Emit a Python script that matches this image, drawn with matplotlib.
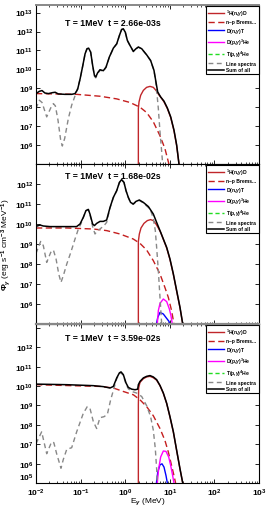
import numpy as np
import matplotlib
matplotlib.use("Agg")
import matplotlib.pyplot as plt
from matplotlib.ticker import FixedLocator, FixedFormatter, LogLocator, NullLocator

plt.rcParams['font.family'] = ['Liberation Sans', 'DejaVu Sans']
plt.rcParams['font.weight'] = 'bold'
plt.rcParams['mathtext.fontset'] = 'custom'
plt.rcParams['mathtext.rm'] = 'Liberation Sans:bold'
plt.rcParams['mathtext.it'] = 'Liberation Sans:italic:bold'
plt.rcParams['mathtext.bf'] = 'Liberation Sans:bold'

# ---------------- data (log10 E [MeV], log10 Phi) ----------------
titles = ["T = 1MeV  t = 2.66e-03s", "T = 1MeV  t = 1.68e-02s", "T = 1MeV  t = 3.59e-02s"]
legend_labels = [r"$^1$H(n,$\gamma$)D", "n\u2013p Brems...", r"D(n,$\gamma$)T",
                 r"D(p,$\gamma$)$^3$He", r"T(p,$\gamma$)$^4$He", "Line spectra", "Sum of all"]
xtick_vals = [1e-2, 1e-1, 1e0, 1e1, 1e2, 1e3]
xtick_labels = [r"$10^{-2}$", r"$10^{-1}$", r"$10^{0}$", r"$10^{1}$", r"$10^{2}$", r"$10^{3}$"]
ytick_vals = [1e5, 1e6, 1e7, 1e8, 1e9, 1e10, 1e11, 1e12, 1e13]
ytick_labels_p1 = ["", r"$10^{6}$", r"$10^{7}$", r"$10^{8}$", r"$10^{9}$", r"$10^{10}$", r"$10^{11}$", r"$10^{12}$", r"$10^{13}$"]
ytick_labels_p2 = ["", r"$10^{6}$", r"$10^{7}$", r"$10^{8}$", r"$10^{9}$", r"$10^{10}$", r"$10^{11}$", r"$10^{12}$", ""]
ytick_labels_p3 = [r"$10^{5}$", r"$10^{6}$", r"$10^{7}$", r"$10^{8}$", r"$10^{9}$", r"$10^{10}$", r"$10^{11}$", r"$10^{12}$", ""]

# Panel 1
p1_sum_x = [-2.0, -1.925, -1.865, -1.80, -1.72, -1.63, -1.57, -1.50, -1.35, -1.20, -1.125, -1.066, -1.01, -0.95, -0.90, -0.857, -0.82, -0.774, -0.73, -0.69, -0.66, -0.617, -0.565, -0.49, -0.43, -0.356, -0.266, -0.19, -0.13, -0.08, -0.042, 0.003, 0.048, 0.108, 0.183, 0.242, 0.295, 0.37, 0.48, 0.57, 0.645, 0.69, 0.728, 0.795, 0.87, 0.945, 1.02, 1.094, 1.154, 1.206]
p1_sum_y = [8.72, 8.84, 8.88, 8.75, 8.72, 8.77, 8.79, 8.70, 8.68, 8.68, 8.72, 8.95, 9.51, 10.21, 10.82, 11.09, 11.12, 10.91, 10.21, 9.68, 9.60, 9.82, 9.98, 9.93, 10.12, 10.65, 11.12, 11.35, 11.79, 12.11, 12.14, 11.96, 11.53, 11.26, 10.95, 11.09, 11.18, 11.09, 10.77, 10.47, 9.95, 9.33, 8.81, 8.54, 8.32, 7.96, 7.49, 6.79, 6.0, 5.0]
p1_brems_x = [-2.0, -1.09, -0.565, -0.19, 0.108, 0.332, 0.48, 0.63, 0.78, 0.89, 0.98]
p1_brems_y = [8.72, 8.68, 8.58, 8.44, 8.25, 8.0, 7.72, 7.23, 6.49, 5.82, 5.0]
p1_hnd_x = [0.295, 0.295, 0.31, 0.347, 0.407, 0.48, 0.556, 0.63, 0.69, 0.75, 0.81, 0.87, 0.945, 1.02, 1.094, 1.154, 1.206]
p1_hnd_y = [5.0, 7.93, 8.28, 8.63, 8.89, 9.05, 9.10, 9.05, 8.89, 8.67, 8.49, 8.28, 7.93, 7.46, 6.75, 5.96, 5.0]
p1_line_x = [-2.0, -1.925, -1.865, -1.76, -1.67, -1.61, -1.566, -1.507, -1.447, -1.41, -1.357, -1.275, -1.20, -1.125, -1.073, -1.01, -0.95, -0.90, -0.857, -0.82, -0.774, -0.73, -0.69, -0.66, -0.617, -0.565, -0.49, -0.43, -0.356, -0.266, -0.19, -0.13, -0.08, -0.042, 0.003, 0.048, 0.108, 0.183, 0.242, 0.295, 0.37, 0.48, 0.57, 0.645, 0.675, 0.705, 0.743, 0.78, 0.818, 0.84]
p1_line_y = [7.93, 8.37, 8.25, 7.49, 7.96, 8.19, 8.07, 7.32, 6.26, 5.95, 6.35, 7.40, 8.11, 8.6, 8.95, 9.50, 10.20, 10.81, 11.08, 11.11, 10.90, 10.19, 9.64, 9.55, 9.78, 9.95, 9.90, 10.10, 10.64, 11.11, 11.34, 11.78, 12.10, 12.13, 11.95, 11.52, 11.25, 10.93, 11.08, 11.17, 11.08, 10.76, 10.45, 9.93, 9.51, 8.89, 7.93, 6.70, 5.65, 5.0]

# Panel 2
p2_sum_x = [-2.0, -1.91, -1.836, -1.686, -1.31, -1.09, -1.013, -0.94, -0.88, -0.827, -0.79, -0.73, -0.69, -0.64, -0.565, -0.49, -0.416, -0.34, -0.266, -0.19, -0.13, -0.08, -0.027, 0.018, 0.07, 0.12, 0.18, 0.242, 0.317, 0.407, 0.52, 0.63, 0.705, 0.78, 0.855, 0.93, 1.004, 1.08, 1.154, 1.229, 1.29]
p2_sum_y = [9.88, 9.95, 9.90, 9.87, 9.87, 9.87, 10.0, 10.33, 10.67, 10.73, 10.5, 10.0, 9.92, 10.03, 10.13, 10.13, 10.2, 10.83, 11.33, 11.67, 12.08, 12.22, 12.08, 11.67, 11.33, 11.08, 11.0, 11.13, 11.2, 11.08, 10.87, 10.5, 10.08, 9.67, 9.25, 8.83, 8.25, 7.5, 6.67, 5.83, 5.0]
p2_brems_x = [-2.0, -1.31, -0.714, -0.416, -0.117, 0.18, 0.332, 0.48, 0.63, 0.78, 0.89, 0.967, 1.04, 1.094]
p2_brems_y = [9.8, 9.8, 9.75, 9.67, 9.5, 9.25, 9.03, 8.7, 8.17, 7.5, 6.83, 6.33, 5.67, 5.0]
p2_hnd_x = [0.295, 0.295, 0.317, 0.354, 0.42, 0.496, 0.57, 0.63, 0.69, 0.743, 0.795, 0.855, 0.93, 1.004, 1.08, 1.154, 1.229, 1.29]
p2_hnd_y = [5.0, 9.13, 9.5, 9.8, 10.03, 10.17, 10.22, 10.17, 10.0, 9.8, 9.58, 9.23, 8.8, 8.22, 7.47, 6.63, 5.8, 5.0]
p2_dng_x = [0.70, 0.73, 0.78, 0.855, 0.93, 0.982, 1.0]
p2_dng_y = [5.0, 5.33, 5.58, 5.50, 5.28, 5.13, 5.0]
p2_dpg_x = [0.72, 0.743, 0.78, 0.855, 0.93, 0.99, 1.026, 1.056]
p2_dpg_y = [5.0, 5.67, 6.03, 6.25, 6.12, 5.75, 5.42, 5.0]
p2_line_x = [-2.0, -1.895, -1.836, -1.76, -1.67, -1.61, -1.55, -1.49, -1.44, -1.387, -1.31, -1.22, -1.125, -1.05, -0.99, -0.94, -0.88, -0.827, -0.79, -0.73, -0.677, -0.625, -0.565, -0.475, -0.416, -0.34, -0.266, -0.19, -0.13, -0.08, -0.027, 0.018, 0.07, 0.12, 0.18, 0.242, 0.317, 0.407, 0.52, 0.57, 0.63, 0.675, 0.705, 0.743, 0.78, 0.818]
p2_line_y = [8.53, 9.13, 8.92, 8.08, 8.58, 8.7, 8.25, 7.5, 7.08, 7.42, 8.0, 8.58, 9.25, 9.75, 10.02, 10.32, 10.66, 10.72, 10.47, 9.87, 9.5, 9.67, 9.75, 9.92, 10.08, 10.8, 11.32, 11.66, 12.07, 12.21, 12.07, 11.66, 11.32, 11.07, 10.98, 11.11, 11.18, 11.05, 10.82, 10.68, 10.28, 9.67, 8.83, 7.67, 6.33, 5.0]

# Panel 3
p3_sum_x = [-2.0, -1.31, -0.714, -0.49, -0.34, -0.266, -0.19, -0.13, -0.094, -0.042, 0.018, 0.07, 0.145, 0.22, 0.28, 0.295, 0.332, 0.407, 0.48, 0.556, 0.63, 0.705, 0.78, 0.855, 0.93, 1.004, 1.08, 1.154, 1.229, 1.29]
p3_sum_y = [10.1, 10.07, 10.02, 9.97, 9.9, 9.98, 10.42, 10.68, 10.73, 10.59, 10.16, 9.93, 9.84, 9.81, 9.84, 10.07, 10.24, 10.42, 10.5, 10.54, 10.47, 10.33, 10.03, 9.64, 9.11, 8.42, 7.64, 6.68, 5.73, 5.0]
p3_brems_x = [-2.0, -0.565, -0.266, -0.042, 0.183, 0.332, 0.48, 0.63, 0.78, 0.89, 0.967, 1.04, 1.094, 1.13]
p3_brems_y = [10.07, 9.98, 9.9, 9.72, 9.55, 9.29, 8.94, 8.47, 7.81, 7.2, 6.6, 5.9, 5.38, 5.0]
p3_hnd_x = [0.295, 0.295, 0.302, 0.332, 0.407, 0.48, 0.556, 0.63, 0.705, 0.78, 0.855, 0.93, 1.004, 1.08, 1.154, 1.229, 1.29]
p3_hnd_y = [5.0, 9.03, 9.9, 10.19, 10.38, 10.47, 10.5, 10.43, 10.3, 10.02, 9.62, 9.1, 8.4, 7.62, 6.67, 5.71, 5.0]
p3_dng_x = [0.70, 0.73, 0.78, 0.825, 0.87, 0.915, 0.945]
p3_dng_y = [5.0, 5.56, 5.94, 5.99, 5.82, 5.38, 5.0]
p3_dpg_x = [0.72, 0.75, 0.795, 0.855, 0.915, 0.975, 1.02, 1.064, 1.094]
p3_dpg_y = [5.0, 5.73, 6.34, 6.65, 6.63, 6.34, 5.9, 5.38, 5.0]
p3_line_x = [-2.0, -1.873, -1.76, -1.65, -1.60, -1.537, -1.44, -1.387, -1.31, -1.20, -1.088, -0.94, -0.85, -0.79, -0.714, -0.64, -0.565, -0.475, -0.40, -0.326, -0.25, -0.19, -0.13, -0.094, -0.042, 0.018, 0.07, 0.145, 0.257, 0.37, 0.48, 0.57, 0.63, 0.675, 0.705, 0.72]
p3_line_y = [7.03, 7.64, 6.51, 7.12, 7.08, 6.51, 5.76, 6.22, 6.74, 6.82, 7.64, 8.59, 8.94, 8.85, 8.16, 7.81, 8.37, 8.42, 8.54, 9.29, 9.9, 10.38, 10.64, 10.69, 10.54, 10.1, 9.86, 9.72, 9.64, 9.46, 8.99, 8.42, 7.73, 6.77, 5.73, 5.0]

panels = [
    dict(sum=(p1_sum_x, p1_sum_y), brems=(p1_brems_x, p1_brems_y), hnd=(p1_hnd_x, p1_hnd_y),
         dng=None, dpg=None, line=(p1_line_x, p1_line_y), ylab=ytick_labels_p1),
    dict(sum=(p2_sum_x, p2_sum_y), brems=(p2_brems_x, p2_brems_y), hnd=(p2_hnd_x, p2_hnd_y),
         dng=(p2_dng_x, p2_dng_y), dpg=(p2_dpg_x, p2_dpg_y), line=(p2_line_x, p2_line_y), ylab=ytick_labels_p2),
    dict(sum=(p3_sum_x, p3_sum_y), brems=(p3_brems_x, p3_brems_y), hnd=(p3_hnd_x, p3_hnd_y),
         dng=(p3_dng_x, p3_dng_y), dpg=(p3_dpg_x, p3_dpg_y), line=(p3_line_x, p3_line_y), ylab=ytick_labels_p3),
]

# ---------------- layout ----------------
W, H = 268, 510
fig = plt.figure(figsize=(W / 100, H / 100), dpi=100)
boxes = [(6, 165), (165, 325), (325, 484)]   # pixel top/bottom
ytops = [10 ** 13.4, 1e13, 10 ** 13.2]
title_y = [0.893, 0.927, 0.916]
L, R = 36, 259

def P(xy):
    return 10 ** np.asarray(xy[0]), 10 ** np.asarray(xy[1])

axes = []
for i, (pn, (top, bot)) in enumerate(zip(panels, boxes)):
    ax = fig.add_axes([L / W, 1 - bot / H, (R - L) / W, (bot - top) / H])
    axes.append(ax)
    ax.set_xscale('log')
    ax.set_yscale('log')
    ax.set_xlim(1e-2, 1e3)
    ax.set_ylim(1e5, ytops[i])
    lw = 1.0
    h_hnd, = ax.plot(*P(pn['hnd']), color='#c0262a', lw=lw)
    h_br, = ax.plot(*P(pn['brems']), color='#c41e1e', lw=lw, ls=(0, (4.5, 2.5)))
    if pn['dng'] is not None:
        h_dn, = ax.plot(*P(pn['dng']), color='#0000ff', lw=lw)
        h_dp, = ax.plot(*P(pn['dpg']), color='#ff00ff', lw=lw)
    else:
        h_dn, = ax.plot([], [], color='#0000ff', lw=lw)
        h_dp, = ax.plot([], [], color='#ff00ff', lw=lw)
    h_tp, = ax.plot([], [], color='#22dd22', lw=lw, ls=(0, (3, 2)))
    h_ln, = ax.plot(*P(pn['line']), color='#888888', lw=lw, ls=(0, (3.5, 2.5)))
    h_sum, = ax.plot(*P(pn['sum']), color='black', lw=1.1)

    ax.xaxis.set_major_locator(FixedLocator(xtick_vals))
    ax.xaxis.set_minor_locator(LogLocator(base=10, subs=np.arange(2, 10)))
    ax.yaxis.set_major_locator(FixedLocator(ytick_vals))
    ax.yaxis.set_minor_locator(NullLocator())
    ax.yaxis.set_major_formatter(FixedFormatter(pn['ylab']))
    if i == 2:
        ax.xaxis.set_major_formatter(FixedFormatter(xtick_labels))
    else:
        ax.set_xticklabels([])
    ax.tick_params(which='both', direction='in', top=True, right=True, labelsize=6, pad=2)
    ax.tick_params(axis='x', which='major', pad=3)
    ax.tick_params(which='major', length=3, width=0.6)
    ax.tick_params(which='minor', length=1.6, width=0.5)
    for s in ax.spines.values():
        s.set_linewidth(0.8)

    ax.text(0.13, title_y[i], titles[i], transform=ax.transAxes, fontsize=6.3,
            fontweight='bold', ha='left', va='center')

    leg = ax.legend([h_hnd, h_br, h_dn, h_dp, h_tp, h_ln, h_sum], legend_labels,
                    loc='upper right', fontsize=3.6, frameon=True, fancybox=False,
                    borderaxespad=0.1, handlelength=3.2, handletextpad=0.5,
                    labelspacing=0.33, borderpad=0.4, framealpha=1)
    leg.get_frame().set_edgecolor('black')
    leg.get_frame().set_linewidth(0.8)

axes[0].spines['top'].set_color('#888888')
axes[0].spines['top'].set_linewidth(1.4)
axes[1].spines['bottom'].set_color('#888888')
axes[1].spines['bottom'].set_linewidth(1.6)
axes[1].set_zorder(3)

# lift the lowest y label of the bottom panel so it clears the x labels
axes[2].yaxis.get_major_ticks()[0].label1.set_va('bottom')

axes[1].set_ylabel(r"$\Phi_\gamma$ (erg s$^{-1}$ cm$^{-3}$ MeV$^{-1}$)", fontsize=6)
axes[1].yaxis.set_label_coords(-0.105, 0.5)
axes[2].set_xlabel(r"E$_\gamma$ (MeV)", fontsize=6, va='top')
axes[2].xaxis.set_label_coords(0.5, -0.078)

fig.savefig("out.png", dpi=100)
